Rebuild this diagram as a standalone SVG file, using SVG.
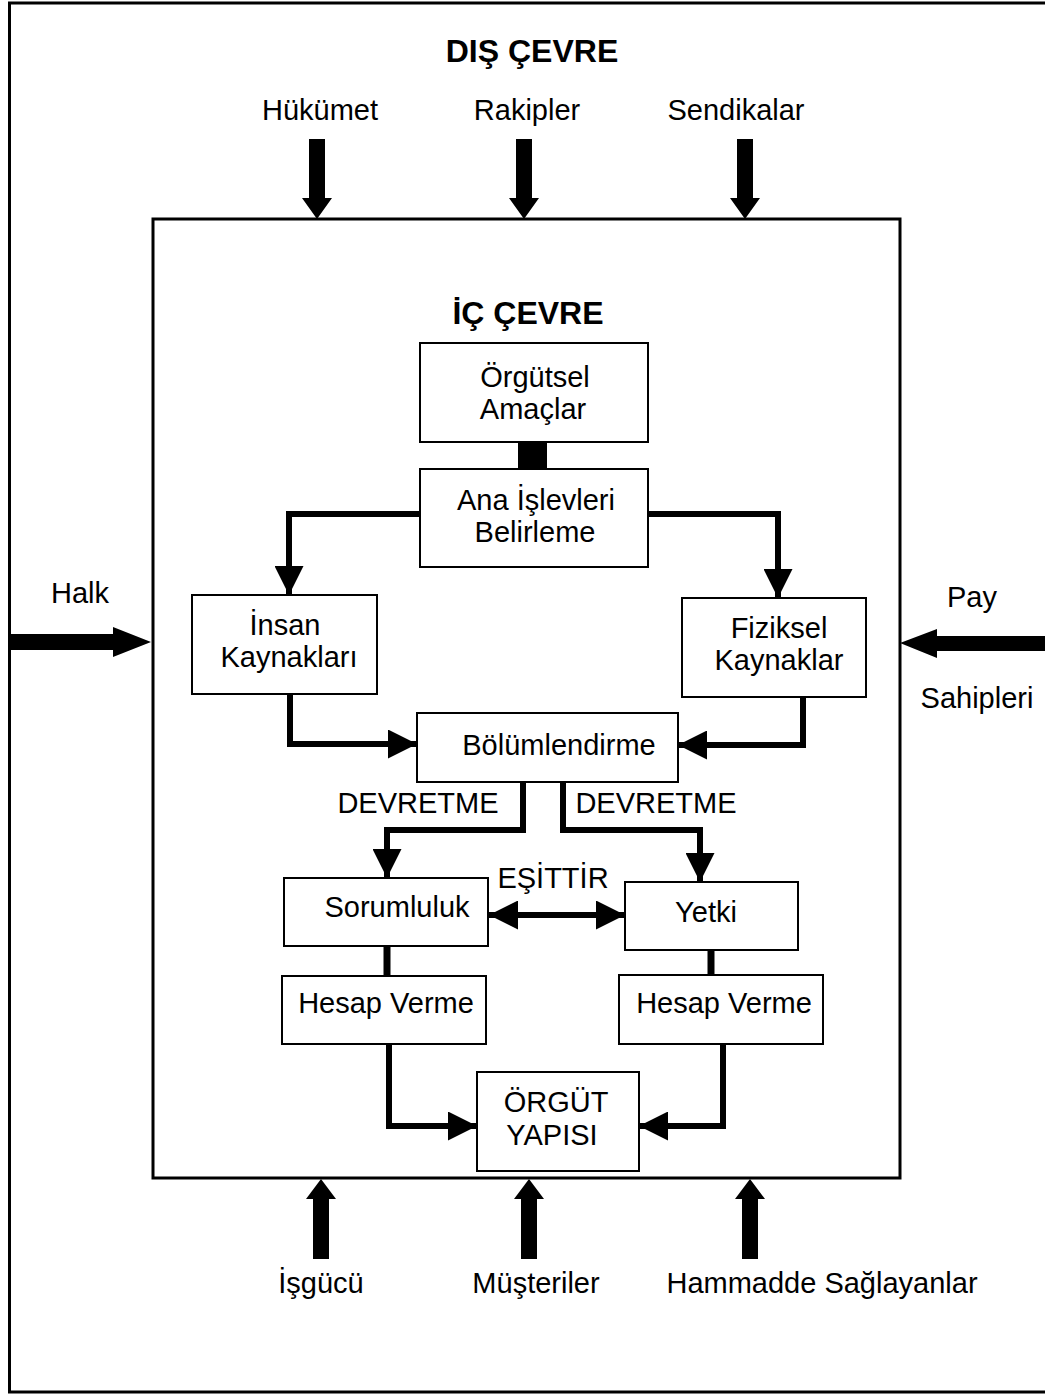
<svg xmlns="http://www.w3.org/2000/svg" width="1045" height="1394" viewBox="0 0 1045 1394">
  <defs>
    <style>
      .frame { fill: none; stroke: #000; stroke-width: 3; }
      .box { fill: #fff; stroke: #000; stroke-width: 2; }
      .lbl { font-family: "Liberation Sans", Arial, sans-serif; font-size: 29px; fill: #000; text-anchor: middle; }
      .title { font-family: "Liberation Sans", Arial, sans-serif; font-size: 32px; font-weight: bold; fill: #000; text-anchor: middle; }
      .fat { fill: #000; stroke: none; }
      .link { fill: none; stroke: #000; stroke-width: 6; stroke-linejoin: miter; }
      .bar { fill: none; stroke: #000; stroke-width: 7; }
    </style>
    <marker id="head" viewBox="0 0 29 29" markerUnits="userSpaceOnUse" markerWidth="29" markerHeight="29" refX="29" refY="14.5" orient="auto">
      <path d="M0,0 L29,14.5 L0,29 z" fill="#000"/>
    </marker>
    <marker id="headStart" viewBox="0 0 29 29" markerUnits="userSpaceOnUse" markerWidth="29" markerHeight="29" refX="29" refY="14.5" orient="auto-start-reverse">
      <path d="M0,0 L29,14.5 L0,29 z" fill="#000"/>
    </marker>
  </defs>

  <rect width="1045" height="1394" fill="#fff"/>

  <!-- outer environment frame (right side runs past the page) -->
  <g id="dis-cevre">
    <rect class="frame" x="9.5" y="3" width="1050" height="1389"/>
    <text class="title" x="532" y="62">DIŞ ÇEVRE</text>
  </g>

  <!-- inner environment frame -->
  <g id="ic-cevre">
    <rect class="frame" x="153" y="219" width="747" height="959"/>
    <text class="title" x="528" y="324">İÇ ÇEVRE</text>
  </g>

  <!-- external forces -->
  <g id="hukumet">
    <text class="lbl" x="320" y="120">Hükümet</text>
    <polygon class="fat" points="309,139 325,139 325,198 332,198 317,219 302,198 309,198"/>
  </g>
  <g id="rakipler">
    <text class="lbl" x="527" y="120">Rakipler</text>
    <polygon class="fat" points="516,139 532,139 532,198 539,198 524,219 509,198 516,198"/>
  </g>
  <g id="sendikalar">
    <text class="lbl" x="736" y="120">Sendikalar</text>
    <polygon class="fat" points="737,139 753,139 753,198 760,198 745,219 730,198 737,198"/>
  </g>
  <g id="halk">
    <text class="lbl" x="80" y="603">Halk</text>
    <polygon class="fat" points="10,634 113,634 113,627 151,642 113,657 113,650 10,650"/>
  </g>
  <g id="pay-sahipleri">
    <text class="lbl" x="972" y="607">Pay</text>
    <text class="lbl" x="977" y="708">Sahipleri</text>
    <polygon class="fat" points="1045,636 937,636 937,629 900,643 937,658 937,651 1045,651"/>
  </g>
  <g id="isgucu">
    <polygon class="fat" points="313,1259 329,1259 329,1199 336,1199 321,1179 306,1199 313,1199"/>
    <text class="lbl" x="321" y="1293">İşgücü</text>
  </g>
  <g id="musteriler">
    <polygon class="fat" points="521,1259 537,1259 537,1199 544,1199 529,1179 514,1199 521,1199"/>
    <text class="lbl" x="536" y="1293">Müşteriler</text>
  </g>
  <g id="hammadde">
    <polygon class="fat" points="742,1259 758,1259 758,1199 765,1199 750,1179 735,1199 742,1199"/>
    <text class="lbl" x="822" y="1293">Hammadde Sağlayanlar</text>
  </g>

  <!-- connectors -->
  <g id="connectors">
    <rect x="518" y="442" width="29" height="28" fill="#000"/>
    <path class="link" d="M420,514 H289 V595" marker-end="url(#head)"/>
    <path class="link" d="M648,514 H778 V598" marker-end="url(#head)"/>
    <path class="link" d="M290,694 V744 H417" marker-end="url(#head)"/>
    <path class="link" d="M803,697 V745 H678" marker-end="url(#head)"/>
    <path class="link" d="M523,782 V830 H387 V878" marker-end="url(#head)"/>
    <path class="link" d="M563,782 V830 H700 V882" marker-end="url(#head)"/>
    <path class="link" d="M489,915 H625" marker-start="url(#headStart)" marker-end="url(#head)"/>
    <text class="lbl" x="418" y="813">DEVRETME</text>
    <text class="lbl" x="656" y="813">DEVRETME</text>
    <text class="lbl" x="553" y="888">EŞİTTİR</text>
    <line class="bar" x1="387" y1="946" x2="387" y2="976"/>
    <line class="bar" x1="711" y1="950" x2="711" y2="975"/>
    <path class="link" d="M389,1044 V1126 H477" marker-end="url(#head)"/>
    <path class="link" d="M723,1044 V1126 H639" marker-end="url(#head)"/>
  </g>

  <!-- internal nodes -->
  <g id="orgutsel-amaclar">
    <rect class="box" x="420" y="343" width="228" height="99"/>
    <text class="lbl" x="535" y="387">Örgütsel</text>
    <text class="lbl" x="533" y="419">Amaçlar</text>
  </g>
  <g id="ana-islevleri">
    <rect class="box" x="420" y="469" width="228" height="98"/>
    <text class="lbl" x="536" y="510">Ana İşlevleri</text>
    <text class="lbl" x="535" y="542">Belirleme</text>
  </g>
  <g id="insan-kaynaklari">
    <rect class="box" x="192" y="595" width="185" height="99"/>
    <text class="lbl" x="285" y="635">İnsan</text>
    <text class="lbl" x="289" y="667">Kaynakları</text>
  </g>
  <g id="fiziksel-kaynaklar">
    <rect class="box" x="682" y="598" width="184" height="99"/>
    <text class="lbl" x="779" y="638">Fiziksel</text>
    <text class="lbl" x="779" y="670">Kaynaklar</text>
  </g>
  <g id="bolumlendirme">
    <rect class="box" x="417" y="713" width="261" height="69"/>
    <text class="lbl" x="559" y="755">Bölümlendirme</text>
  </g>
  <g id="sorumluluk">
    <rect class="box" x="284" y="878" width="204" height="68"/>
    <text class="lbl" x="397" y="917">Sorumluluk</text>
  </g>
  <g id="yetki">
    <rect class="box" x="625" y="882" width="173" height="68"/>
    <text class="lbl" x="706" y="922">Yetki</text>
  </g>
  <g id="hesap-verme-1">
    <rect class="box" x="282" y="976" width="204" height="68"/>
    <text class="lbl" x="386" y="1013">Hesap Verme</text>
  </g>
  <g id="hesap-verme-2">
    <rect class="box" x="619" y="975" width="204" height="69"/>
    <text class="lbl" x="724" y="1013">Hesap Verme</text>
  </g>
  <g id="orgut-yapisi">
    <rect class="box" x="477" y="1072" width="162" height="99"/>
    <text class="lbl" x="556" y="1112">ÖRGÜT</text>
    <text class="lbl" x="552" y="1145">YAPISI</text>
  </g>
</svg>
